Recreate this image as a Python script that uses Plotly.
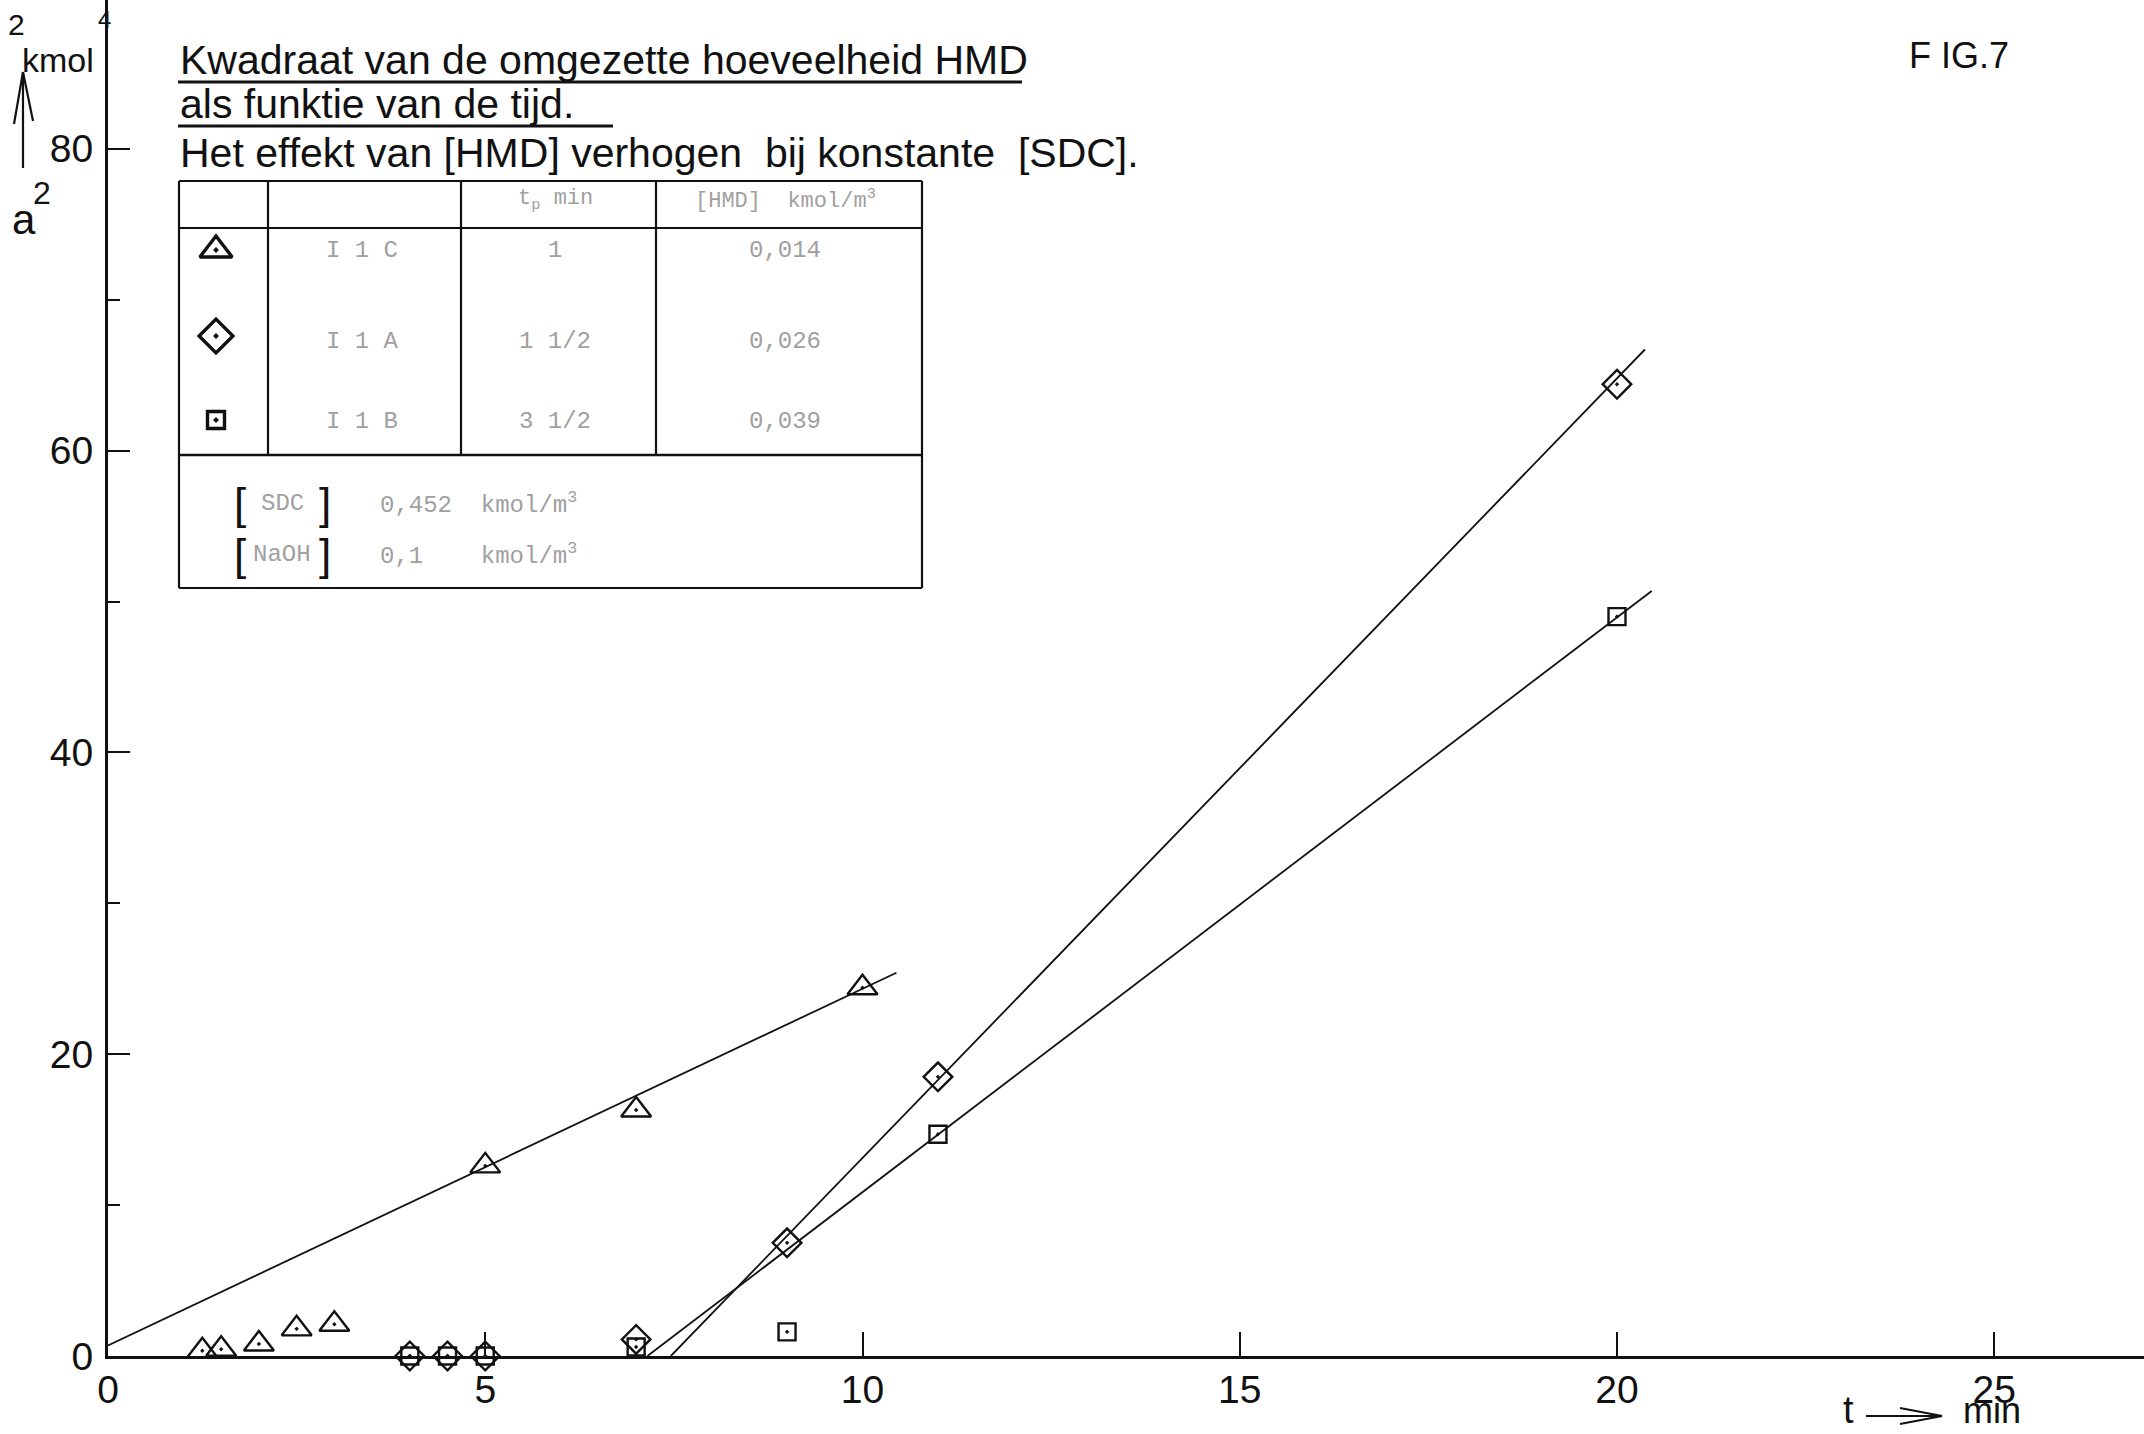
import plotly.graph_objects as go

# ---------------- data ----------------
# Triangles (I 1 C)
tri_t = [1.25, 1.5, 2.0, 2.5, 3.0, 5.0, 7.0, 10.0]
tri_a2 = [0.35, 0.45, 0.8, 1.8, 2.1, 12.6, 16.3, 24.4]
# Diamonds (I 1 A)
dia_t = [4.0, 4.5, 5.0, 7.0, 9.0, 11.0, 20.0]
dia_a2 = [0.0, 0.0, 0.0, 1.1, 7.5, 18.5, 64.4]
# Squares (I 1 B)
sq_t = [4.0, 4.5, 5.0, 7.0, 9.0, 11.0, 20.0]
sq_a2 = [0.0, 0.0, 0.0, 0.6, 1.6, 14.7, 49.0]
# Hand-drawn straight lines (end points)
tri_fit_t = [0.0, 10.45]
tri_fit_a2 = [0.7, 25.4]
dia_fit_t = [7.46, 20.37]
dia_fit_a2 = [0.0, 66.7]
sq_fit_t = [7.15, 20.46]
sq_fit_a2 = [0.0, 50.7]

x_ticks = [0, 5, 10, 15, 20, 25]
y_ticks = [0, 20, 40, 60, 80]
y_minor = [10, 30, 50, 70]

# table contents
tbl_header = ["t<sub>p</sub> min", "[HMD]  kmol/m<sup>3</sup>"]
tbl_rows = [["I 1 C", "1", "0,014"],
            ["I 1 A", "1 1/2", "0,026"],
            ["I 1 B", "3 1/2", "0,039"]]
tbl_symbols = ["triangle-up-open-dot", "diamond-open-dot", "square-open-dot"]

# ---------------- layout geometry (pixels) ----------------
W, H = 2144, 1434
PL, PR, PT, PB = 108, 2144, 0, 1356
X_MAX = (PR - PL) / 75.45
Y_MAX = (PB - PT) / 15.09

def px(x):
    return (x - PL) / (PR - PL)

def py(y):
    return (PB - y) / (PB - PT)

BLACK = "#111111"
GRAY = "#a0a0a0"
NARROW = "Liberation Sans Narrow, Arial Narrow, Liberation Sans, sans-serif"
SANS = "Liberation Sans, Arial, sans-serif"
MONO = "Liberation Mono, Courier New, monospace"

fig = go.Figure()

line_style = dict(color=BLACK, width=1.8)
fig.add_trace(go.Scatter(x=tri_fit_t, y=tri_fit_a2, mode="lines", line=line_style, showlegend=False, cliponaxis=False))
fig.add_trace(go.Scatter(x=dia_fit_t, y=dia_fit_a2, mode="lines", line=line_style, showlegend=False, cliponaxis=False))
fig.add_trace(go.Scatter(x=sq_fit_t, y=sq_fit_a2, mode="lines", line=line_style, showlegend=False, cliponaxis=False))

fig.add_trace(go.Scatter(x=tri_t, y=tri_a2, mode="markers", showlegend=False, cliponaxis=False,
                         marker=dict(symbol="triangle-up-open-dot", size=26, color=BLACK, line=dict(width=2.4, color=BLACK))))
fig.add_trace(go.Scatter(x=dia_t, y=dia_a2, mode="markers", showlegend=False, cliponaxis=False,
                         marker=dict(symbol="diamond-open-dot", size=22, color=BLACK, line=dict(width=2.4, color=BLACK))))
fig.add_trace(go.Scatter(x=sq_t, y=sq_a2, mode="markers", showlegend=False, cliponaxis=False,
                         marker=dict(symbol="square-open-dot", size=17, color=BLACK, line=dict(width=2.4, color=BLACK))))

# table symbols on a pixel-coordinate overlay axis
tbl_sym_x = [216, 216, 216]
tbl_sym_y = [250, 336, 420]
tbl_sym_size = [28, 26, 17]
for sym, xx, yy, ss in zip(tbl_symbols, tbl_sym_x, tbl_sym_y, tbl_sym_size):
    fig.add_trace(go.Scatter(x=[xx], y=[yy], xaxis="x2", yaxis="y2", mode="markers", showlegend=False,
                             cliponaxis=False,
                             marker=dict(symbol=sym, size=ss, color=BLACK, line=dict(width=3.4, color=BLACK))))

shapes = []
def seg(x0, y0, x1, y1, w=2.2, color=BLACK):
    shapes.append(dict(type="line", xref="paper", yref="paper", x0=px(x0), y0=py(y0), x1=px(x1), y1=py(y1),
                       line=dict(color=color, width=w)))

# table frame
TL, TR, TT, TB = 179, 922, 181, 588
seg(TL, TT, TR, TT)
seg(TL, TB, TR, TB)
seg(TL, TT, TL, TB)
seg(TR, TT, TR, TB)
seg(TL, 228, TR, 228)
seg(TL, 455, TR, 455, w=2.6)
for vx in [268, 461, 656]:
    seg(vx, TT, vx, 455)

# title underlines
seg(178, 82, 1022, 82, w=3)
seg(178, 126, 613, 126, w=3)

# y label arrow
seg(23, 168, 23, 72, w=2.2)
seg(23, 72, 14, 124, w=2.2)
seg(23, 72, 33, 121, w=2.2)
# t -> min arrow
seg(1866, 1416, 1940, 1416, w=2.2)
seg(1900, 1408, 1942, 1416, w=2.2)
seg(1900, 1424, 1942, 1416, w=2.2)

ann = []
def txt(x, y, s, size, family=SANS, color=BLACK, xanchor="center"):
    ann.append(dict(x=px(x), y=py(y), xref="paper", yref="paper", text=s, showarrow=False,
                    xanchor=xanchor, yanchor="middle", font=dict(size=size, family=family, color=color)))

# titles
txt(178, 60, "Kwadraat van de omgezette hoeveelheid HMD", 41, xanchor="left")
txt(178, 104, "als funktie van de tijd.", 41, xanchor="left")
txt(178, 153, "Het effekt van [HMD] verhogen  bij konstante  [SDC].", 41, xanchor="left")
txt(1959, 55, "F IG.7", 36)

# axis label pieces
txt(16, 24, "2", 30)
txt(58, 60, "kmol", 34)
txt(104, 19, "4", 24)
txt(24, 220, "a", 42)
txt(42, 193, "2", 32)
txt(1848, 1410, "t", 38)
txt(1992, 1410, "min", 36, family=NARROW)

# table text
txt(555, 200, tbl_header[0], 22, MONO, GRAY)
txt(785, 200, tbl_header[1], 22, MONO, GRAY)
row_y = [250, 342, 421]
for r, yy in zip(tbl_rows, row_y):
    txt(362, yy, r[0], 24, MONO, GRAY)
    txt(555, yy, r[1], 24, MONO, GRAY)
    txt(785, yy, r[2], 24, MONO, GRAY)

# bottom section of table
txt(240, 503, "[", 44, SANS, BLACK)
txt(282, 503, "SDC", 24, MONO, GRAY)
txt(325, 503, "]", 44, SANS, BLACK)
txt(378, 503, "0,452  kmol/m<sup>3</sup>", 24, MONO, GRAY, xanchor="left")
txt(240, 554, "[", 44, SANS, BLACK)
txt(282, 554, "NaOH", 24, MONO, GRAY)
txt(325, 554, "]", 44, SANS, BLACK)
txt(378, 554, "0,1    kmol/m<sup>3</sup>", 24, MONO, GRAY, xanchor="left")

fig.update_layout(
    width=W, height=H,
    margin=dict(l=PL, r=W - PR, t=PT, b=H - PB, pad=0),
    paper_bgcolor="white", plot_bgcolor="white",
    font=dict(family=NARROW, color=BLACK),
    shapes=shapes, annotations=ann,
    xaxis=dict(range=[0, X_MAX], showgrid=False, zeroline=False, showline=True, linecolor=BLACK, linewidth=3,
               tickmode="array", tickvals=x_ticks, ticktext=[str(v) for v in x_ticks],
               ticks="inside", ticklen=24, tickwidth=2, tickcolor=BLACK,
               tickfont=dict(size=39, family=NARROW, color=BLACK), ticklabelstandoff=-3),
    yaxis=dict(range=[0, Y_MAX], showgrid=False, zeroline=False, showline=True, linecolor=BLACK, linewidth=3,
               tickmode="array", tickvals=y_ticks, ticktext=[str(v) for v in y_ticks],
               ticks="inside", ticklen=22, tickwidth=2, tickcolor=BLACK,
               minor=dict(tickvals=y_minor, ticks="inside", ticklen=12, tickwidth=2, tickcolor=BLACK),
               tickfont=dict(size=39, family=NARROW, color=BLACK), ticklabelstandoff=4),
    xaxis2=dict(overlaying="x", range=[PL, PR], visible=False, fixedrange=True),
    yaxis2=dict(overlaying="y", range=[PB, PT], visible=False, fixedrange=True),
)

fig.write_html("out.html", config={"displayModeBar": False},
               post_script="document.body.style.margin='0';document.body.style.overflow='hidden';")
